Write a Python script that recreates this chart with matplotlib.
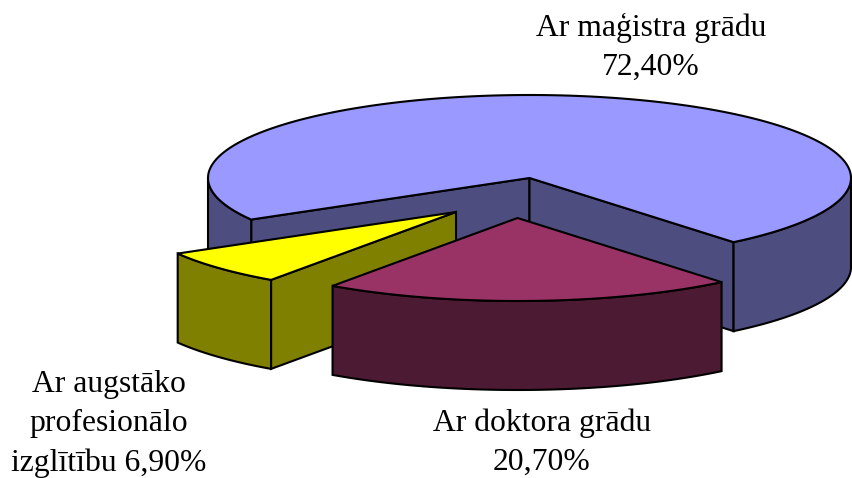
import matplotlib
matplotlib.use("Agg")
import matplotlib.pyplot as plt
import numpy as np

labels = ["Ar maģistra grādu\n72,40%", "Ar doktora grādu\n20,70%", "Ar augstāko\nprofesionālo\nizglītību 6,90%"]
values = [72.4, 20.7, 6.9]
top_colors = ["#9999FF", "#993366", "#FFFF00"]
side_colors = ["#4D4D80", "#4D1A33", "#808000"]

# where the pie sits, in pixels of the picture
cx, cy = 529.5, 178
rx, ry = 321.5, 83
depth = 89
start = 50.6   # degrees, clockwise on screen from the right
explode = [(0, 0), (-12, 40), (-73.5, 34)]
label_pos = [(651, 47.5), (542, 443), (109, 424)]

# doctor and yellow at the front, blue round the back
a1 = start + values[1] * 3.6
a2 = a1 + values[2] * 3.6
spans = {1: (start, a1), 2: (a1, a2), 0: (a2, a2 + values[0] * 3.6)}
z = [1, 3, 2]
lw = 1.5


def rim(i, a0, a1):
    t = np.radians(np.linspace(a0, a1, 200))
    ox, oy = explode[i]
    return cx + ox + rx * np.cos(t), cy + oy + ry * np.sin(t)


def wall(ax, i, a0, a1):
    # outer side of the slice, only the part facing us
    x, y = rim(i, a0, a1)
    pts = np.r_[np.c_[x, y], np.c_[x[::-1], y[::-1] + depth]]
    ax.fill(pts[:, 0], pts[:, 1], fc=side_colors[i], ec="black", lw=lw, zorder=z[i])


def cut(ax, i, ang):
    # flat cut face from the middle to the rim
    ox, oy = explode[i]
    x, y = rim(i, ang, ang)
    px = [cx + ox, x[0], x[0], cx + ox]
    py = [cy + oy, y[0], y[0] + depth, cy + oy + depth]
    ax.fill(px, py, fc=side_colors[i], ec="black", lw=lw, zorder=z[i])


def top(ax, i):
    ox, oy = explode[i]
    x, y = rim(i, *spans[i])
    ax.fill(np.r_[cx + ox, x], np.r_[cy + oy, y], fc=top_colors[i], ec="black", lw=lw, zorder=z[i])


fig = plt.figure(figsize=(8.53, 4.78), dpi=100)
ax = fig.add_axes([0, 0, 1, 1])
ax.set_xlim(0, 853)
ax.set_ylim(478, 0)
ax.axis("off")

# blue slice
cut(ax, 0, spans[0][0])
cut(ax, 0, spans[0][1])
wall(ax, 0, 360, spans[0][1])
wall(ax, 0, spans[0][0], 180)
top(ax, 0)

# yellow slice
cut(ax, 2, spans[2][0])
wall(ax, 2, spans[2][0], spans[2][1])
top(ax, 2)

# doctor slice
wall(ax, 1, *spans[1])
top(ax, 1)

for lab, (tx, ty) in zip(labels, label_pos):
    ax.text(tx, ty, lab, ha="center", va="center", family="Liberation Serif",
            fontsize=22.8, color="black", linespacing=1.45, zorder=5)

fig.savefig("out.png", dpi=100)
